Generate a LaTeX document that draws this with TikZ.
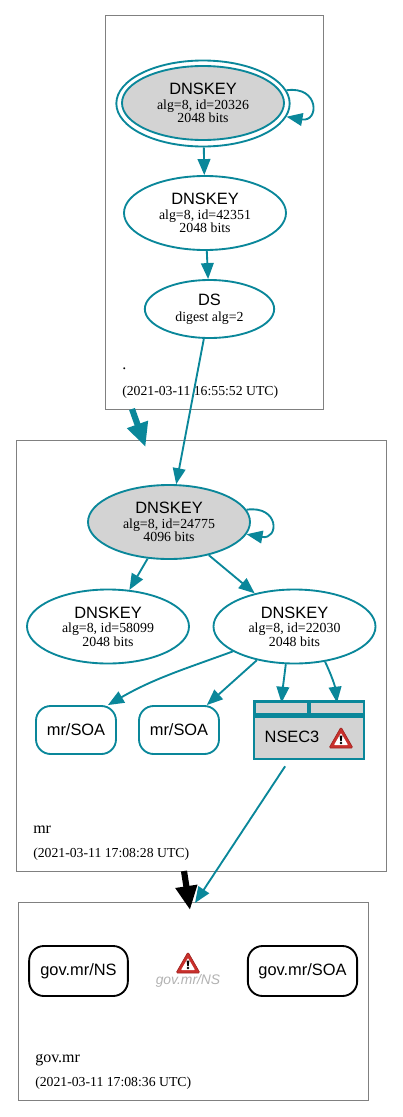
\documentclass[tikz,border=0pt]{standalone}
\usepackage{fontspec}
\setmainfont{Liberation Serif}
\setsansfont{Liberation Sans}
\usetikzlibrary{arrows.meta,shapes.geometric}
\definecolor{dnsteal}{HTML}{0A879A}
\definecolor{dnsgray}{HTML}{D3D3D3}
\definecolor{zoneline}{HTML}{808080}
\definecolor{warnred}{HTML}{C9302C}
\newcommand{\keytext}[3]{{\sffamily\fontsize{12.3}{10.2}\selectfont #1}\\[0.8pt]#2\\#3}

\begin{document}
\begin{tikzpicture}[x=0.75pt,y=-0.75pt]
\tikzstyle{zone}=[draw=zoneline,line width=0.7pt,rectangle,inner sep=0pt]
\tikzstyle{key}=[draw=dnsteal,line width=1.4pt,ellipse,inner sep=0pt,minimum width=121.5pt,minimum height=55.5pt,align=center,font=\fontsize{10.4}{10.2}\selectfont]
\tikzstyle{dskey}=[key,minimum width=97pt,minimum height=43.5pt]
\tikzstyle{outerkey}=[draw=dnsteal,line width=1.4pt,ellipse,inner sep=0pt,minimum width=130pt,minimum height=64.5pt]
\tikzstyle{rrset}=[draw=dnsteal,line width=1.4pt,rectangle,rounded corners=11pt,inner sep=0pt,minimum width=60pt,minimum height=36pt,font=\sffamily\fontsize{12.3}{14}\selectfont]
\tikzstyle{glue}=[rrset,draw=black,minimum height=37.5pt]
\tikzstyle{cell}=[fill=dnsgray,rectangle,inner sep=0pt]
\tikzstyle{edge}=[draw=dnsteal,line width=1.4pt,-{Triangle[length=12pt,width=9.5pt]}]
\tikzstyle{cycle1}=[edge,out=8,in=-10,distance=25pt]
\tikzstyle{delegation}=[line width=4.6pt,-{Triangle[length=18pt,width=15.5pt]}]
\tikzstyle{zonetext}=[inner sep=0pt,anchor=west,font=\fontsize{12}{14}\selectfont]
\tikzstyle{datetext}=[inner sep=0pt,anchor=west,font=\fontsize{10.3}{12}\selectfont]
\tikzset{warnsign/.pic={
  \fill[warnred,draw=warnred!80!black,line width=0.5pt,rounded corners=1pt] (-12,10) -- (0,-11) -- (12,10) -- cycle;
  \fill[white,rounded corners=0.5pt] (-7,7) -- (0,-5) -- (7,7) -- cycle;
  \fill[black] (-1.4,-2.5) -- (1.4,-2.5) -- (0.7,3) -- (-0.7,3) -- cycle;
  \fill[black] (0,5) circle (1.3);
}}
\useasboundingbox (0,0) rectangle (403,1117);

\node[zone,minimum width=163.5pt,minimum height=295pt] (root) at (214.5,212.3) {};
\node[zone,minimum width=277.5pt,minimum height=323pt] (mr) at (201,655.8) {};
\node[zone,minimum width=262.5pt,minimum height=149pt] (gov) at (193,1001.5) {};

\node[outerkey] (rootksk) at (203,103.5) {};
\node[key,fill=dnsgray] (rootkskin) at (203,103) {\keytext{DNSKEY}{alg=8, id=20326}{2048 bits}};
\node[key] (rootzsk) at (205,213) {\keytext{DNSKEY}{alg=8, id=42351}{2048 bits}};
\node[dskey] (rootds) at (209.5,309) {{\sffamily\fontsize{12.3}{10.2}\selectfont DS}\\[1.5pt]digest alg=2};
\node[zonetext] (rootname) at (122,369) {.};
\node[datetext] (rootdate) at (122,392) {(2021-03-11 16:55:52 UTC)};

\node[key,fill=dnsgray] (mrksk) at (169,522) {\keytext{DNSKEY}{alg=8, id=24775}{4096 bits}};
\node[key] (mrzska) at (108,626.5) {\keytext{DNSKEY}{alg=8, id=58099}{2048 bits}};
\node[key] (mrzskb) at (294.5,626.5) {\keytext{DNSKEY}{alg=8, id=22030}{2048 bits}};
\node[rrset] (soaa) at (76,730) {mr/SOA};
\node[rrset] (soab) at (179,730) {mr/SOA};
\node[fill=dnsteal,rectangle,inner sep=0pt,minimum width=83.5pt,minimum height=45pt] (nsec) at (309,730) {};
\node[cell,minimum width=38.5pt,minimum height=7.5pt] (nsecl) at (281.5,708) {};
\node[cell,minimum width=39pt,minimum height=7.5pt] (nsecr) at (337,708) {};
\node[cell,minimum width=80.5pt,minimum height=30pt] (nsecb) at (309,737.5) {};
\node[inner sep=0pt,font=\sffamily\fontsize{12.3}{14}\selectfont] (nsectext) at (292,737) {NSEC3};
\pic at (341,738) {warnsign};
\node[zonetext] (mrname) at (33,830) {mr};
\node[datetext] (mrdate) at (33,854) {(2021-03-11 17:08:28 UTC)};

\node[glue,minimum width=74pt] (govns) at (78.5,971) {gov.mr/NS};
\node[glue,minimum width=82pt] (govsoa) at (302.5,971) {gov.mr/SOA};
\pic at (188,963) {warnsign};
\node[inner sep=0pt,text=black!30,font=\sffamily\itshape\fontsize{10.4}{12}\selectfont] (govmiss) at (188,981) {gov.mr/NS};
\node[zonetext] (govname) at (35,1060.5) {gov.mr};
\node[datetext] (govdate) at (35,1083) {(2021-03-11 17:08:36 UTC)};

\coordinate (rootout) at (132,409);
\coordinate (mrin) at (145.5,447);
\coordinate (mrout) at (184,871);
\coordinate (govin) at (190,910);
\coordinate (govtip) at (195,903);

\draw[cycle1] (rootksk.9) to (rootksk.-9);
\path (rootksk) edge[edge] (rootzsk);
\path (rootzsk) edge[edge] (rootds);
\path (rootds) edge[edge] (mrksk);
\draw[cycle1] (mrksk.9) to (mrksk.-9);
\path (mrksk) edge[edge] (mrzska);
\path (mrksk) edge[edge] (mrzskb);
\draw[edge] (mrzskb.202) to[out=200,in=30] (soaa.38);
\path (mrzskb) edge[edge] (soab);
\draw[edge] (mrzskb.257) to[out=-97,in=85] (nsecl.north);
\draw[edge] (mrzskb.311) to[out=-65,in=97] (nsecr.north);
\draw[edge,shorten <=5.4pt] (nsec) -- (govtip);
\draw[delegation,dnsteal] (rootout) -- (mrin);
\draw[delegation,black] (mrout) -- (govin);
\end{tikzpicture}
\end{document}
